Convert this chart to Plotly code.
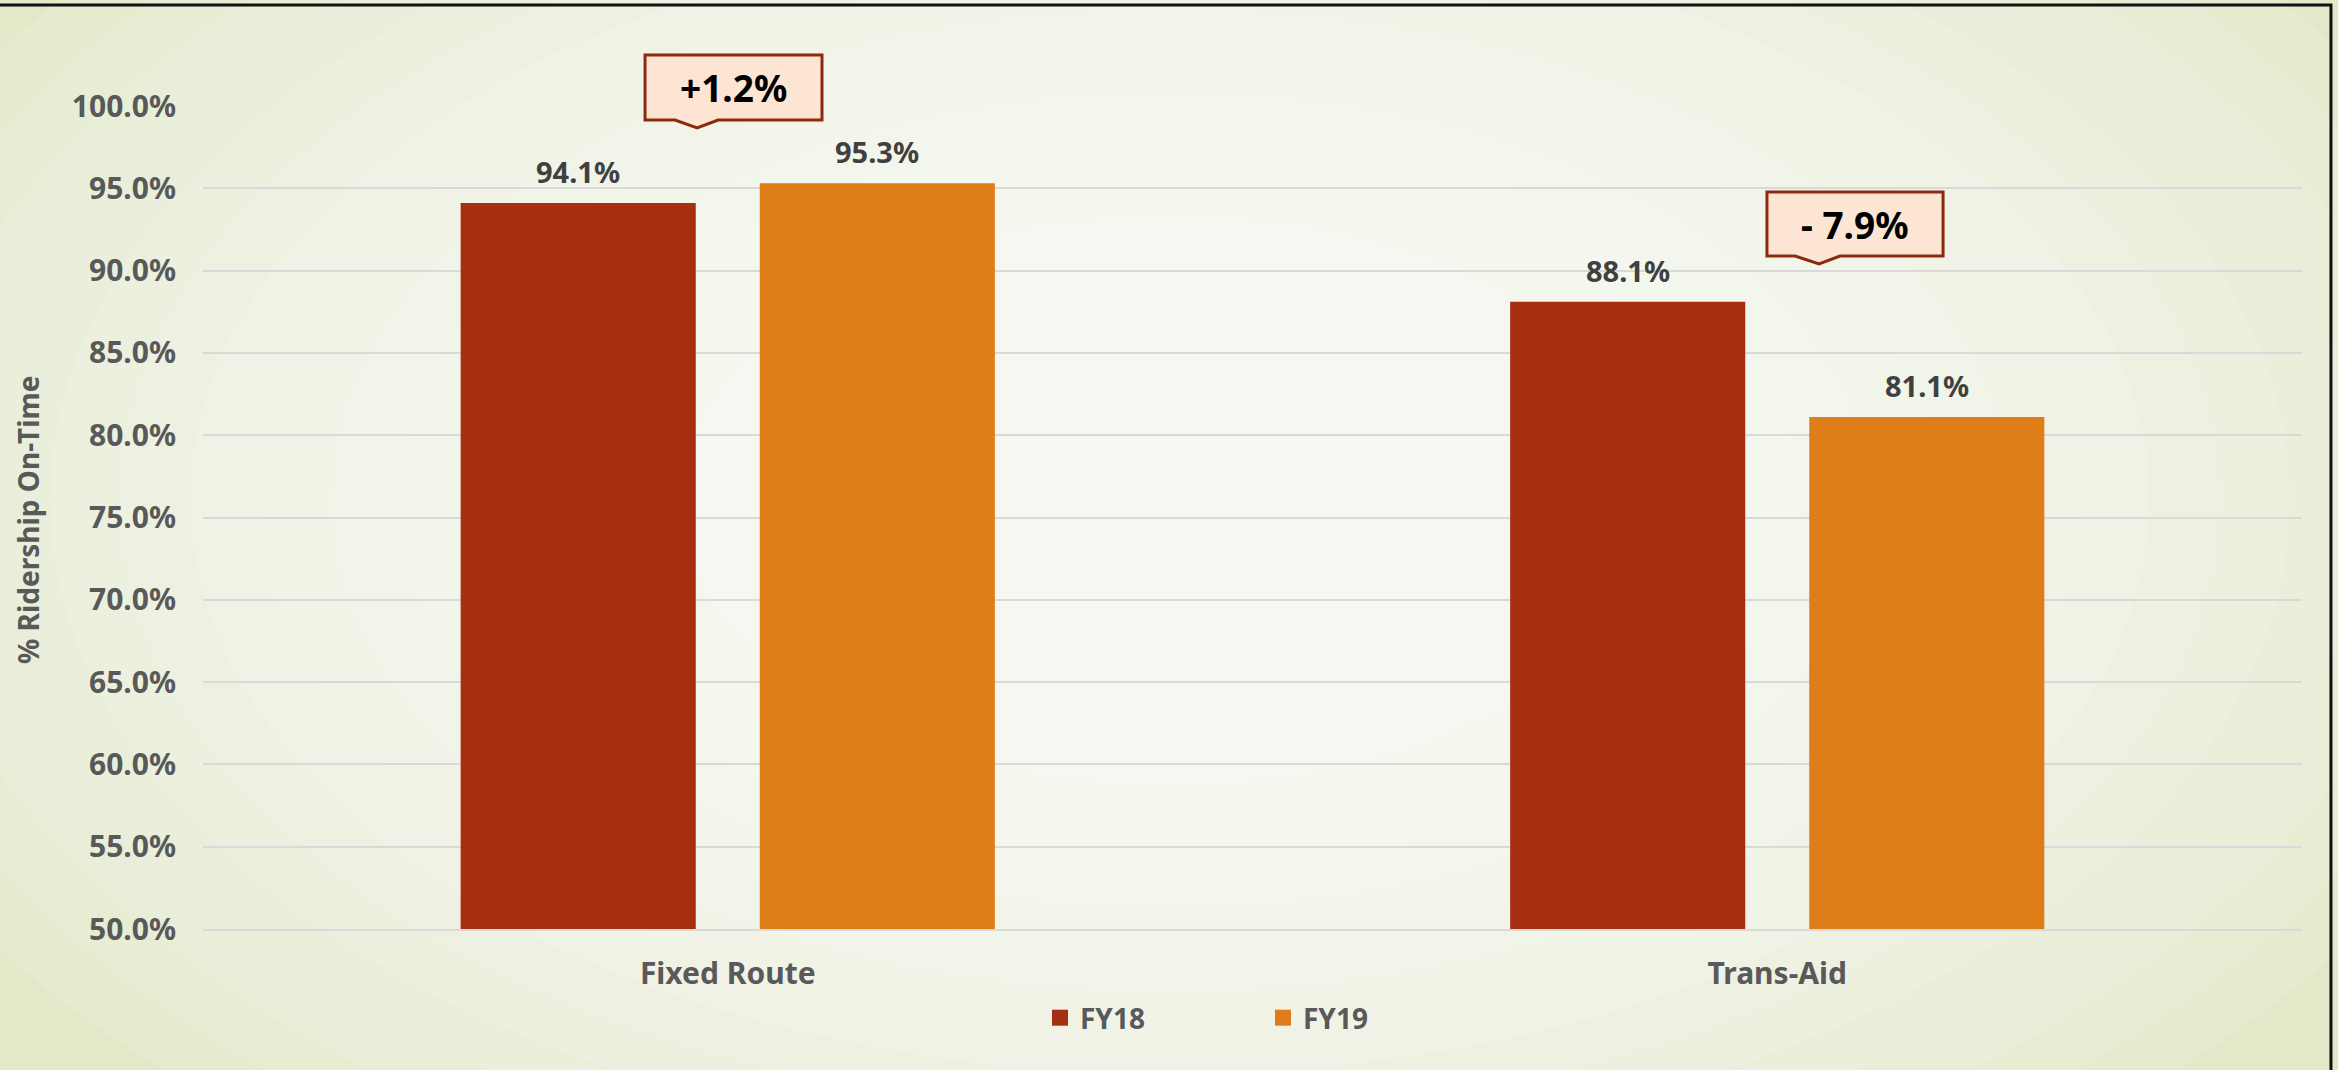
import plotly.graph_objs as go

# Data.
categories = ["Fixed Route", "Trans-Aid"]
fy18 = [94.1, 88.1]
fy19 = [95.3, 81.1]
series_names = ["FY18", "FY19"]
changes = ["+1.2%", "- 7.9%"]

W, H = 2338, 1070
L, R, T, B = 203, 36, 106, 141
FONT = "Noto Sans"
GREY = "#595959"
COLORS = ["#A52F10", "#DF7E19"]
BARGAP = 0.43
GROUPGAP = 0.214


def px_x(px):
    return (px - L) / (W - L - R)


def px_y(py):
    return (H - B - py) / (H - T - B)


def path(points):
    pts = " L".join(f"{px_x(x):.4f},{px_y(y):.4f}" for x, y in points)
    return f"M{pts} Z"


traces = []
for name, values, color in zip(series_names, [fy18, fy19], COLORS):
    traces.append(
        go.Bar(
            x=categories,
            y=values,
            name=name,
            marker={"color": color, "line": {"width": 0}},
            showlegend=False,
            hoverinfo="skip",
        )
    )
# Legend entries with bigger square swatches.
for name, color in zip(series_names, COLORS):
    traces.append(
        go.Scatter(
            x=[None],
            y=[None],
            mode="markers",
            name=name,
            marker={"symbol": "square", "size": 16, "color": color},
        )
    )

shapes = []
# Soft radial background: stacked white ellipses.
cx, cy = 1170, 500
steps = 16
for i in range(steps):
    f = 1 - 0.8 * i / steps
    rx, ry = 1400 * f, 820 * f
    shapes.append(
        {
            "type": "circle",
            "xref": "paper",
            "yref": "paper",
            "x0": px_x(cx - rx),
            "x1": px_x(cx + rx),
            "y0": px_y(cy + ry),
            "y1": px_y(cy - ry),
            "fillcolor": "#FFFFFF",
            "opacity": 0.1,
            "line": {"width": 0},
            "layer": "below",
        }
    )
# Frame on top and right.
shapes.append(
    {
        "type": "path",
        "xref": "paper",
        "yref": "paper",
        "path": f"M{px_x(-5):.4f},{px_y(5):.4f} L{px_x(2331):.4f},{px_y(5):.4f} L{px_x(2331):.4f},{px_y(1080):.4f}",
        "line": {"color": "#111111", "width": 3},
    }
)
# Callouts.
callouts = [
    [(645, 55), (822, 55), (822, 120), (718, 120), (697, 128), (675, 120), (645, 120)],
    [(1767, 192), (1943, 192), (1943, 256), (1840, 256), (1819, 264), (1795, 256), (1767, 256)],
]
for pts in callouts:
    shapes.append(
        {
            "type": "path",
            "xref": "paper",
            "yref": "paper",
            "path": path(pts),
            "fillcolor": "#FCE5D2",
            "line": {"color": "#8B2A0F", "width": 3},
        }
    )

annotations = [
    {
        "text": "% Ridership On-Time",
        "xref": "paper",
        "yref": "paper",
        "x": px_x(28),
        "y": px_y(520),
        "xanchor": "center",
        "yanchor": "middle",
        "textangle": -90,
        "showarrow": False,
        "font": {"family": FONT, "size": 28, "color": GREY, "weight": "bold"},
    }
]
for text, pts in zip(changes, callouts):
    annotations.append(
        {
            "text": text,
            "xref": "paper",
            "yref": "paper",
            "x": px_x((pts[0][0] + pts[1][0]) / 2),
            "y": px_y((pts[0][1] + pts[2][1]) / 2),
            "xanchor": "center",
            "yanchor": "middle",
            "showarrow": False,
            "font": {"family": FONT, "size": 37, "color": "black", "weight": "bold"},
        }
    )
# Value labels above each bar.
slot = (W - L - R) / len(categories) * (1 - BARGAP) / len(series_names)
for i, values in enumerate([fy18, fy19]):
    for cat, v in zip(categories, values):
        annotations.append(
            {
                "text": f"{v:.1f}%",
                "x": cat,
                "y": v,
                "xref": "x",
                "yref": "y",
                "xshift": (i - 0.5) * slot,
                "yshift": 10,
                "xanchor": "center",
                "yanchor": "bottom",
                "showarrow": False,
                "font": {"family": FONT, "size": 29, "color": "#404040", "weight": "bold"},
            }
        )

layout = {
    "width": W,
    "height": H,
    "margin": {"l": L, "r": R, "t": T, "b": B},
    "paper_bgcolor": "#E1E9C9",
    "plot_bgcolor": "rgba(0,0,0,0)",
    "barmode": "group",
    "bargap": BARGAP,
    "bargroupgap": GROUPGAP,
    "font": {"family": FONT, "color": GREY},
    "hovermode": False,
    "xaxis": {
        "type": "category",
        "showgrid": False,
        "showline": True,
        "linecolor": "#D9D9D9",
        "linewidth": 2,
        "ticks": "",
        "ticklabelstandoff": 17,
        "tickfont": {"family": FONT, "size": 30, "color": GREY, "weight": "bold"},
    },
    "yaxis": {
        "range": [50, 100],
        "dtick": 5,
        "tickformat": ".1f",
        "ticksuffix": "%",
        "showgrid": True,
        "gridcolor": "#D9D9D9",
        "gridwidth": 2,
        "zeroline": False,
        "ticks": "",
        "ticklabelstandoff": 26,
        "tickfont": {"family": FONT, "size": 30, "color": GREY, "weight": "bold"},
    },
    "legend": {
        "orientation": "h",
        "x": px_x(1040),
        "xanchor": "left",
        "y": px_y(1018),
        "yanchor": "middle",
        "entrywidth": 178,
        "bgcolor": "rgba(0,0,0,0)",
        "font": {"family": FONT, "size": 28, "color": GREY, "weight": "bold"},
    },
    "shapes": shapes,
    "annotations": annotations,
}

fig = go.Figure(data=traces, layout=layout)
fig.write_html(
    "out.html",
    config={"displayModeBar": False},
    post_script="document.body.style.margin = '0';",
)
